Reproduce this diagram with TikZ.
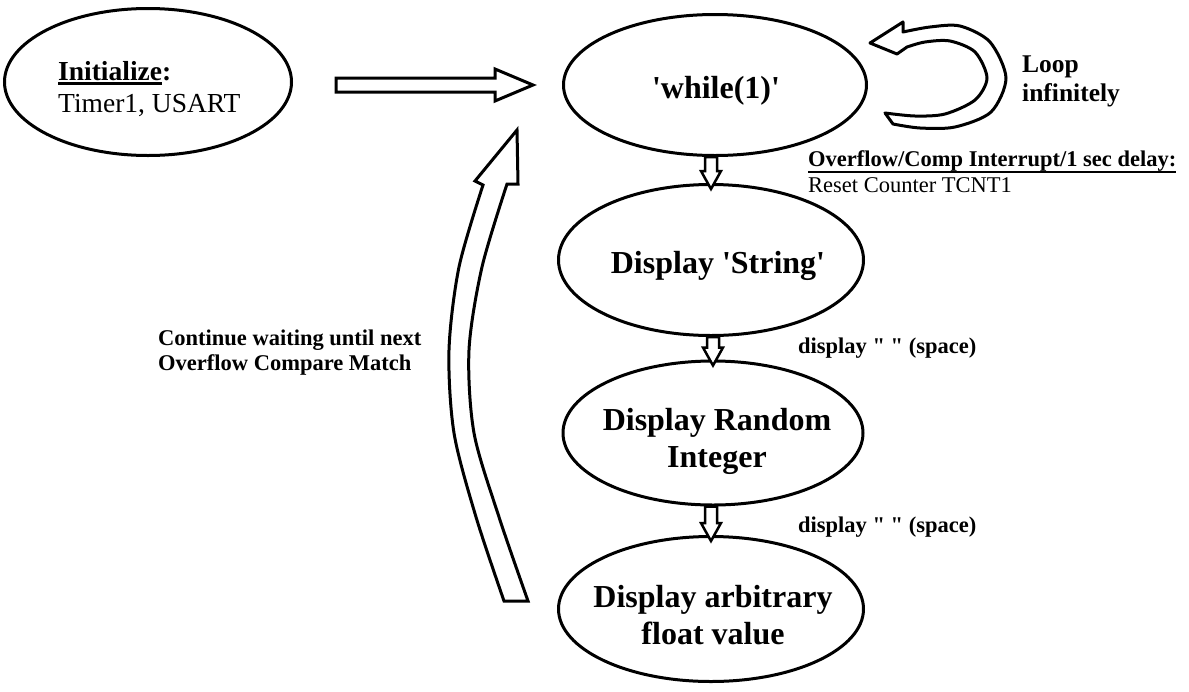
\documentclass[tikz,border=0pt]{standalone}
\usepackage{fontspec}
\newfontfamily\tnr{Liberation Serif}
\usetikzlibrary{shapes.geometric,calc}
\newlength\ulwidth
\newcommand\ulthick[3]{\settowidth\ulwidth{#3}\rlap{\rule[#1]{\ulwidth}{#2}}#3}

\begin{document}
\begin{tikzpicture}[x=1pt,y=-1pt,
	stage/.style={draw, ellipse, line width=3pt, minimum width=305pt, minimum height=145pt, inner sep=0pt},
	big/.style={font=\tnr\bfseries\fontsize{32}{37}\selectfont, align=center, inner sep=0pt},
	note/.style={font=\tnr\bfseries\fontsize{22.5}{25}\selectfont, align=left, inner sep=0pt},
	hollow/.style={draw, fill=white, line width=3pt, line join=miter}]
	\fill[white] (0,0) rectangle (1189,691);
	% states
	\node[stage, minimum width=287pt, minimum height=147pt] (init) at (148,82) {};
	\node[stage, minimum width=303pt, minimum height=141pt] (while) at (715,85) {};
	\node[stage, minimum height=151pt] (string) at (711,260) {};
	\node[stage, minimum width=300pt, minimum height=144pt] (integer) at (713,433) {};
	\node[stage] (float) at (711,609) {};
	\node[anchor=north west, align=left, inner sep=0pt, font=\tnr\fontsize{27.5}{32}\selectfont] (inittxt) at (58,61.5) {\textbf{\ulthick{-4pt}{2.6pt}{Initialize}:}\\Timer1, USART};
	\node[big, anchor=base] (whiletxt) at (716,98) {'while(1)'};
	\node[big, anchor=base] (stringtxt) at (718,273) {Display 'String'};
	\node[big] (integertxt) at (717,441) {Display Random\\Integer};
	\node[big] (floattxt) at (713,615) {Display arbitrary\\float value};
	% init -> while
	\coordinate (tip) at ($(while.west)+(-29,0)$);
	\draw[hollow] (tip) -- ++(-38,-16) -- ++(0,9) -- ++(-159,0) -- ++(0,14) -- ++(159,0) -- ++(0,9) -- cycle;
	% one state to the next
	\foreach \a/\b in {while/string,string/integer,integer/float}
		\draw[hollow, line width=2.5pt] ($(\a.south -| \b.north)+(-6,0)$) -- ($(\b.north)+(-6,-12)$) -- ++(-4,0) -- ($(\b.north)+(0,6)$) -- ($(\b.north)+(10,-12)$) -- ++(-4,0) -- ($(\a.south -| \b.north)+(6,0)$) -- cycle;
	% back up to while(1)
	\draw[hollow] (483,185) -- (475,181) -- (517,130) -- (518,184) -- (507,184)
		-- plot[smooth] coordinates {(507,184) (482,267) (469,350) (474,433) (499,517) (528,601)}
		-- (504,601)
		-- plot[smooth] coordinates {(504,601) (476,517) (454,433) (449,350) (459,267) (483,185)} -- cycle;
	% loop
	\draw[hollow, line join=round] (870,43) -- (903,22) -- (903,32)
		-- plot[smooth] coordinates {(903,32) (930,27) (960,26) (990,42) (1006,78) (991,112) (955,127) (920,128) (893,124)}
		-- (885,113)
		-- plot[smooth] coordinates {(885,113) (915,116) (945,114) (975,100) (987,78) (975,52) (950,41) (925,42) (907,47)}
		-- (897,54) -- cycle;
	\node[note, anchor=north west, font=\tnr\bfseries\fontsize{25.5}{29}\selectfont] (loop) at (1022,56) {Loop\\infinitely};
	\node[note, anchor=north west, font=\tnr\fontsize{22.5}{26}\selectfont] (overflow) at (808,150.5) {\textbf{\ulthick{-6pt}{2pt}{Overflow/Comp Interrupt/1 sec delay:}}\\Reset Counter TCNT1};
	\node[note, anchor=base west] (space1) at (798,353) {display " " (space)};
	\node[note, anchor=base west] (space2) at (798,532) {display " " (space)};
	\node[note, anchor=north west] (wait) at (158,330) {Continue waiting until next\\Overflow Compare Match};
\end{tikzpicture}
\end{document}
